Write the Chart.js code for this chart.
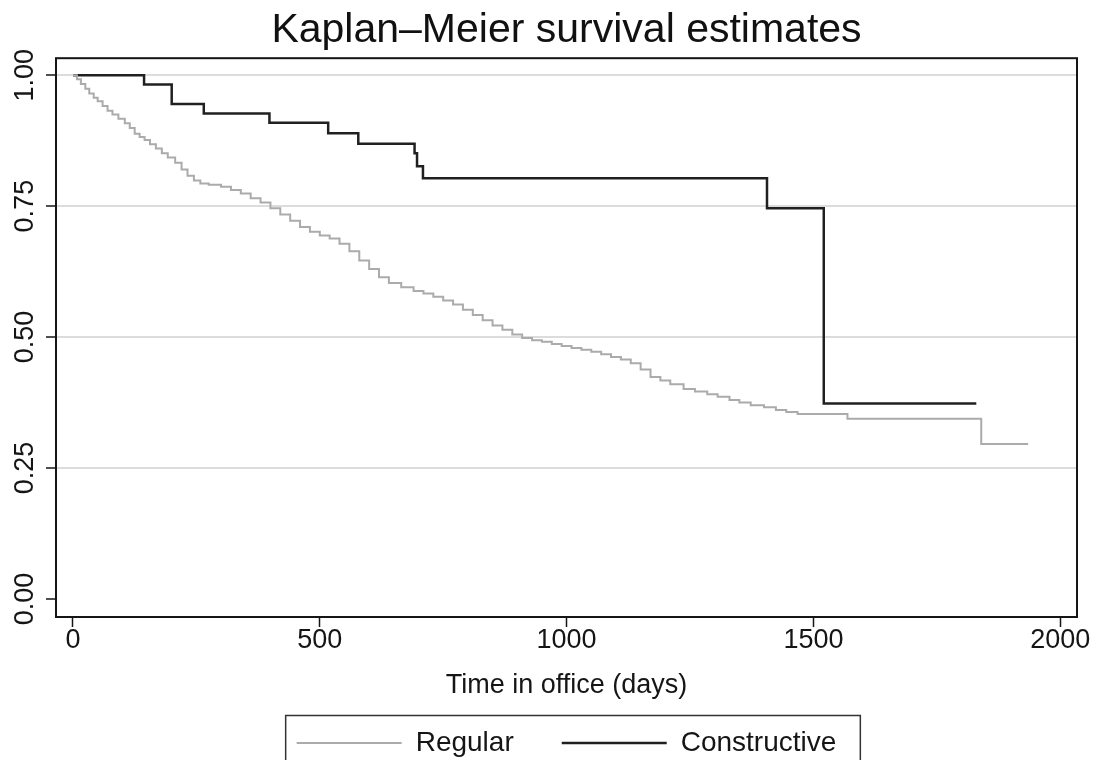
<!DOCTYPE html>
<html>
<head>
<meta charset="utf-8">
<title>Kaplan–Meier survival estimates</title>
<script src="https://cdn.jsdelivr.net/npm/chart.js@4.4.1/dist/chart.umd.min.js"></script>
<style>
  html, body { margin: 0; padding: 0; background: #fff; }
  .chart-wrap { width: 1098px; height: 760px; position: relative; }
</style>
</head>
<body>
<div class="chart-wrap"><canvas id="kmChart"></canvas></div>
<script>
// Survival estimates (days, share still in office)
const regularDays = [0, 8, 16, 25, 33, 42, 50, 60, 70, 80, 92, 105, 115, 125, 135, 145, 156, 168, 180, 192,
  207, 220, 232, 245, 258, 275, 300, 320, 340, 360, 380, 400, 420, 440, 460, 480, 500, 520, 540, 560,
  580, 600, 620, 640, 665, 690, 710, 730, 750, 770, 790, 810, 830, 850, 870, 890, 910, 930, 950, 970,
  990, 1010, 1030, 1050, 1070, 1090, 1110, 1130, 1150, 1170, 1190, 1210, 1237, 1260, 1285, 1306, 1330, 1350, 1373, 1400,
  1424, 1445, 1468, 1569, 1840, 1935];
const regularSurv = [1.000, 0.992, 0.983, 0.974, 0.965, 0.957, 0.950, 0.941, 0.932, 0.925, 0.917, 0.908, 0.899, 0.888, 0.882, 0.876, 0.868, 0.860, 0.851, 0.843,
  0.833, 0.820, 0.808, 0.799, 0.793, 0.791, 0.787, 0.781, 0.774, 0.765, 0.757, 0.746, 0.734, 0.722, 0.710, 0.701, 0.694, 0.688, 0.678, 0.664,
  0.646, 0.630, 0.614, 0.603, 0.595, 0.588, 0.583, 0.577, 0.570, 0.562, 0.552, 0.542, 0.532, 0.522, 0.514, 0.505, 0.498, 0.494, 0.491, 0.487,
  0.483, 0.479, 0.476, 0.472, 0.467, 0.462, 0.457, 0.450, 0.438, 0.424, 0.417, 0.410, 0.401, 0.396, 0.391, 0.386, 0.380, 0.375, 0.370, 0.366,
  0.361, 0.357, 0.353, 0.344, 0.296, 0.296];

const constructiveDays = [0, 144, 200, 265, 398, 517, 578, 692, 697, 709, 1406, 1521, 1830];
const constructiveSurv = [1.000, 0.982, 0.945, 0.927, 0.909, 0.889, 0.869, 0.851, 0.826, 0.803, 0.746, 0.373, 0.373];

const xTicks = [0, 500, 1000, 1500, 2000];
const yTicks = [0, 0.25, 0.5, 0.75, 1];

const FONT = "'Liberation Sans', Arial, Helvetica, sans-serif";
const INK = '#151515';

Chart.defaults.font.family = FONT;

const toPoints = (xs, ys) => xs.map((x, i) => ({ x, y: ys[i] }));

// Stata-style closed frame around the plot region
const framePlugin = {
    id: 'frame',
    afterDatasetsDraw(chart) {
        const { ctx, chartArea: a } = chart;
        ctx.save();
        ctx.strokeStyle = INK;
        ctx.lineWidth = 2;
        ctx.strokeRect(a.left, a.top, a.right - a.left, a.bottom - a.top);
        ctx.restore();
    }
};

// Vertical y tick labels (read bottom to top)
const yLabelPlugin = {
    id: 'yLabels',
    afterDraw(chart) {
        const { ctx, scales: { y } } = chart;
        ctx.save();
        ctx.font = '27px ' + FONT;
        ctx.fillStyle = INK;
        ctx.textAlign = 'center';
        ctx.textBaseline = 'alphabetic';
        yTicks.forEach(v => {
            ctx.save();
            ctx.translate(33, y.getPixelForValue(v));
            ctx.rotate(-Math.PI / 2);
            ctx.fillText(v.toFixed(2), 0, 0);
            ctx.restore();
        });
        ctx.restore();
    }
};

// Box around the legend row
const legendFramePlugin = {
    id: 'legendFrame',
    afterDraw(chart) {
        const boxes = chart.legend && chart.legend.legendHitBoxes;
        if (!boxes || !boxes.length) return;
        const { ctx } = chart;
        const first = boxes[0];
        const last = boxes[boxes.length - 1];
        const left = first.left - 11;
        const right = last.left + last.width + 24;
        ctx.save();
        ctx.strokeStyle = '#333';
        ctx.lineWidth = 1.5;
        ctx.strokeRect(left, 715.5, right - left, 80);
        ctx.restore();
    }
};

new Chart(document.getElementById('kmChart'), {
    type: 'line',
    data: {
        datasets: [
            {
                label: 'Regular',
                data: toPoints(regularDays, regularSurv),
                borderColor: '#ababab',
                backgroundColor: '#ababab',
                borderWidth: 2,
                stepped: true,
                pointRadius: 0,
                fill: false
            },
            {
                label: 'Constructive',
                data: toPoints(constructiveDays, constructiveSurv),
                borderColor: '#202020',
                backgroundColor: '#202020',
                borderWidth: 2.5,
                stepped: true,
                pointRadius: 0,
                fill: false
            }
        ]
    },
    options: {
        responsive: true,
        maintainAspectRatio: false,
        animation: false,
        layout: { padding: { left: 0, right: 21, top: 0, bottom: -7 } },
        scales: {
            x: {
                type: 'linear',
                min: -34.4,
                max: 2034,
                afterBuildTicks: s => { s.ticks = xTicks.map(v => ({ value: v })); },
                afterFit: s => { s.height = 64; },
                border: { display: false },
                grid: { drawOnChartArea: false, tickLength: 10, tickColor: INK, tickWidth: 1.5 },
                ticks: {
                    color: INK,
                    font: { size: 27, lineHeight: 1 },
                    padding: 0,
                    maxRotation: 0,
                    autoSkip: false,
                    callback: v => String(v)
                },
                title: {
                    display: true,
                    text: 'Time in office (days)',
                    color: INK,
                    font: { size: 27, lineHeight: 1.2 },
                    padding: { top: 0, bottom: -21 }
                }
            },
            y: {
                min: -0.0344,
                max: 1.0324,
                afterBuildTicks: s => { s.ticks = yTicks.map(v => ({ value: v })); },
                afterFit: s => { s.width = 56; },
                border: { display: false },
                grid: {
                    color: c => (c.tick && c.tick.value === 0 ? 'rgba(0,0,0,0)' : '#dcdcdc'),
                    lineWidth: 2,
                    tickLength: 10,
                    tickColor: INK,
                    tickWidth: 1.5
                },
                ticks: { display: false }
            }
        },
        plugins: {
            title: {
                display: true,
                text: 'Kaplan–Meier survival estimates',
                color: '#111',
                fullSize: false,
                font: { size: 41, weight: 'normal', lineHeight: 1.2 },
                padding: { top: 6, bottom: 3 }
            },
            legend: {
                position: 'bottom',
                fullSize: false,
                labels: {
                    usePointStyle: true,
                    pointStyle: 'line',
                    pointStyleWidth: 105,
                    padding: 48,
                    color: INK,
                    font: { size: 28 }
                }
            },
            tooltip: { enabled: false }
        }
    },
    plugins: [framePlugin, yLabelPlugin, legendFramePlugin]
});
</script>
</body>
</html>
